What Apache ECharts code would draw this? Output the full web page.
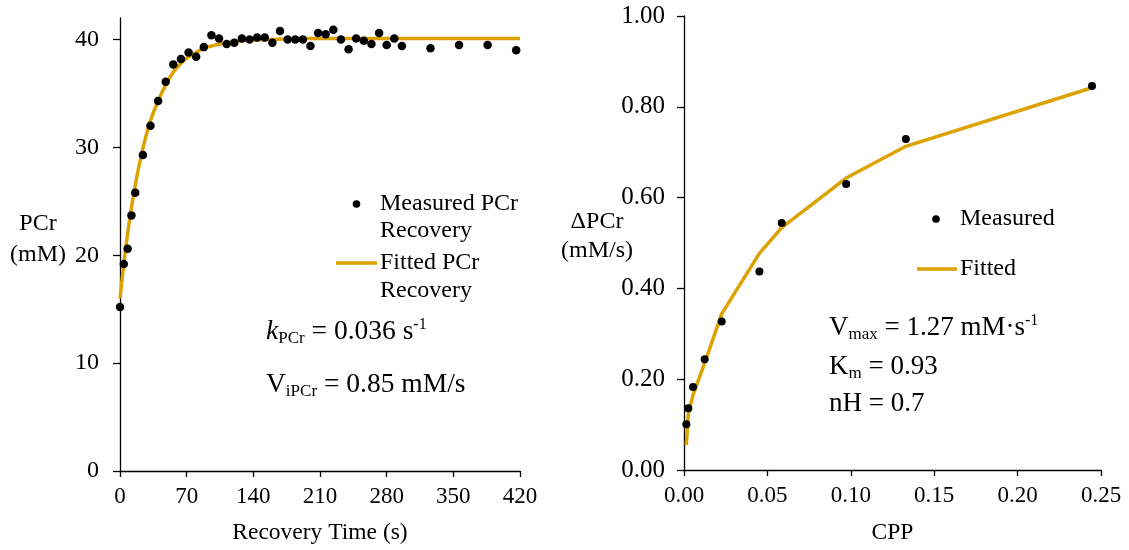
<!DOCTYPE html>
<html>
<head>
<meta charset="utf-8">
<script src="https://cdn.jsdelivr.net/npm/echarts@6/dist/echarts.min.js"></script>
<style>
  html, body { margin: 0; padding: 0; background: #fff; }
  #chart { width: 1129px; height: 550px; }
</style>
</head>
<body>
<div id="chart"></div>
<script>
// PCr recovery after exercise (left panel)
const pcrTime = [0, 4, 8, 12, 16, 24, 32, 40, 48, 56, 64, 72, 80, 88, 96, 104, 112, 120, 128, 136,
  144, 152, 160, 168, 176, 184, 192, 200, 208, 216, 224, 232, 240, 248, 256, 264, 272, 280, 288, 296,
  326, 356, 386, 416];
const pcrMeasured = [15.2, 19.2, 20.6, 23.7, 25.8, 29.3, 32.0, 34.3, 36.1, 37.7, 38.2, 38.8, 38.4, 39.3, 40.4, 40.1, 39.6, 39.7, 40.1, 40.0,
  40.2, 40.2, 39.7, 40.8, 40.0, 40.0, 40.0, 39.4, 40.6, 40.5, 40.9, 40.0, 39.1, 40.1, 39.9, 39.6, 40.6, 39.5, 40.1, 39.4,
  39.2, 39.5, 39.5, 39.0];
const pcrFitTime = [0, 4, 8, 12, 16, 20, 24, 28, 32, 40, 48, 56, 64, 72, 80, 88, 96, 112, 128, 160, 200, 420];
const pcrFitted = [16.0, 19.2, 22.0, 24.4, 26.5, 28.3, 29.9, 31.3, 32.5, 34.3, 35.8, 37.0, 37.8, 38.4, 38.8, 39.2, 39.4, 39.7, 39.9, 40.0, 40.1, 40.1];
const pcrTicks = [0, 10, 20, 30, 40];

// Rate of PCr change vs CPP (right panel)
const cpp = [0.0014, 0.0026, 0.0054, 0.0124, 0.0226, 0.0452, 0.0586, 0.0972, 0.133, 0.2446];
const dpcrMeasured = [0.101, 0.136, 0.183, 0.244, 0.327, 0.437, 0.544, 0.630, 0.729, 0.846];
const dpcrFitted = [0.055, 0.125, 0.165, 0.236, 0.344, 0.477, 0.534, 0.643, 0.713, 0.842];

const SERIF = "'Liberation Serif', 'Times New Roman', serif";
const GOLD = '#DDA200';
const BLACK = '#000';

const pairs = (xs, ys) => xs.map((x, i) => [x, ys[i]]);

const axisBase = {
  axisLine: { onZero: false, lineStyle: { color: BLACK, width: 1.3 } },
  axisTick: { lineStyle: { color: BLACK, width: 1.3 } },
  splitLine: { show: false },
  axisLabel: { color: BLACK, fontFamily: SERIF }
};

function txt(x, y, text, size, extra) {
  return {
    type: 'text', x: x, y: y, silent: true,
    style: Object.assign({
      text: text, fill: BLACK, fontFamily: SERIF, fontSize: size,
      align: 'left', verticalAlign: 'middle'
    }, extra || {})
  };
}

function richTxt(x, yMid, text, size) {
  const lh = 30;
  return {
    type: 'text', x: x, y: yMid - lh / 2, silent: true,
    style: {
      text: text, fill: BLACK, fontFamily: SERIF, fontSize: size,
      align: 'left', verticalAlign: 'top',
      rich: {
        n: { fontFamily: SERIF, fontSize: size, lineHeight: lh, fill: BLACK },
        i: { fontFamily: SERIF, fontSize: size, lineHeight: lh, fontStyle: 'italic', fill: BLACK },
        sub: { fontFamily: SERIF, fontSize: 17, lineHeight: 12, verticalAlign: 'bottom', fill: BLACK },
        sup: { fontFamily: SERIF, fontSize: 16, lineHeight: 12, verticalAlign: 'top', fill: BLACK }
      }
    }
  };
}

const chart = echarts.init(document.getElementById('chart'), null, { renderer: 'canvas' });

chart.setOption({
  backgroundColor: '#fff',
  animation: false,
  grid: [
    { left: 120, top: 18, width: 400, height: 455 },
    { left: 684, top: 16, width: 417, height: 456 }
  ],
  xAxis: [
    Object.assign({}, axisBase, {
      gridIndex: 0, type: 'value', min: 0, max: 420, interval: 70,
      axisTick: { length: 6, lineStyle: { color: BLACK, width: 1.3 } },
      axisLabel: { color: BLACK, fontFamily: SERIF, fontSize: 23, margin: 14 },
      name: 'Recovery Time (s)', nameLocation: 'middle', nameGap: 50,
      nameTextStyle: { color: BLACK, fontFamily: SERIF, fontSize: 23.5 }
    }),
    Object.assign({}, axisBase, {
      gridIndex: 1, type: 'value', min: 0, max: 0.25, interval: 0.05,
      axisTick: { length: 6, lineStyle: { color: BLACK, width: 1.3 } },
      axisLabel: { color: BLACK, fontFamily: SERIF, fontSize: 23, margin: 14,
        formatter: v => v.toFixed(2) },
      name: 'CPP', nameLocation: 'middle', nameGap: 51,
      nameTextStyle: { color: BLACK, fontFamily: SERIF, fontSize: 23.5 }
    })
  ],
  yAxis: [
    Object.assign({}, axisBase, {
      gridIndex: 0, type: 'value', min: 0, max: 42,
      axisTick: { length: 7, customValues: pcrTicks, lineStyle: { color: BLACK, width: 1.3 } },
      axisLabel: { color: BLACK, fontFamily: SERIF, fontSize: 24, margin: 21, customValues: pcrTicks }
    }),
    Object.assign({}, axisBase, {
      gridIndex: 1, type: 'value', min: 0, max: 1, interval: 0.2,
      axisTick: { length: 7, lineStyle: { color: BLACK, width: 1.3 } },
      axisLabel: { color: BLACK, fontFamily: SERIF, fontSize: 25, margin: 19,
        formatter: v => v.toFixed(2) }
    })
  ],
  series: [
    {
      name: 'Fitted PCr Recovery', type: 'line', xAxisIndex: 0, yAxisIndex: 0,
      data: pairs(pcrFitTime, pcrFitted), smooth: 0.4, showSymbol: false,
      lineStyle: { color: GOLD, width: 3.5 }, z: 2
    },
    {
      name: 'Measured PCr Recovery', type: 'scatter', xAxisIndex: 0, yAxisIndex: 0,
      data: pairs(pcrTime, pcrMeasured), symbolSize: 8.5,
      itemStyle: { color: BLACK, opacity: 1 }, z: 3
    },
    {
      name: 'Fitted', type: 'line', xAxisIndex: 1, yAxisIndex: 1,
      data: pairs(cpp, dpcrFitted), smooth: false, showSymbol: false,
      lineStyle: { color: GOLD, width: 3.5 }, z: 2
    },
    {
      name: 'Measured', type: 'scatter', xAxisIndex: 1, yAxisIndex: 1,
      data: pairs(cpp, dpcrMeasured), symbolSize: 8,
      itemStyle: { color: BLACK, opacity: 1 }, z: 3
    }
  ],
  graphic: [
    // y-axis titles
    txt(38, 224, 'PCr', 24, { align: 'center' }),
    txt(38, 255, '(mM)', 24, { align: 'center' }),
    txt(597, 222, 'ΔPCr', 24, { align: 'center' }),
    txt(597, 251, '(mM/s)', 24, { align: 'center' }),

    // left legend
    { type: 'circle', silent: true, shape: { cx: 356.5, cy: 204, r: 3.8 }, style: { fill: BLACK } },
    txt(380, 204, 'Measured PCr', 24),
    txt(380, 231, 'Recovery', 24),
    { type: 'line', silent: true, shape: { x1: 336, y1: 263, x2: 377, y2: 263 }, style: { stroke: GOLD, lineWidth: 3.5 } },
    txt(380, 263, 'Fitted PCr', 24),
    txt(380, 291, 'Recovery', 24),

    // left fit parameters
    richTxt(266, 332, '{i|k}{sub|PCr}{n| = 0.036 s}{sup|-1}', 27.5),
    richTxt(266, 385, '{n|V}{sub|iPCr}{n| = 0.85 mM/s}', 27.5),

    // right legend
    { type: 'circle', silent: true, shape: { cx: 936, cy: 219, r: 3.8 }, style: { fill: BLACK } },
    txt(960, 219, 'Measured', 24),
    { type: 'line', silent: true, shape: { x1: 917, y1: 269, x2: 957, y2: 269 }, style: { stroke: GOLD, lineWidth: 3.5 } },
    txt(960, 269, 'Fitted', 24),

    // right fit parameters
    richTxt(829, 328, '{n|V}{sub|max}{n| = 1.27 mM·s}{sup|-1}', 27),
    richTxt(829, 367, '{n|K}{sub|m}{n| = 0.93}', 27),
    richTxt(829, 404, '{n|nH = 0.7}', 27)
  ]
});
</script>
</body>
</html>
